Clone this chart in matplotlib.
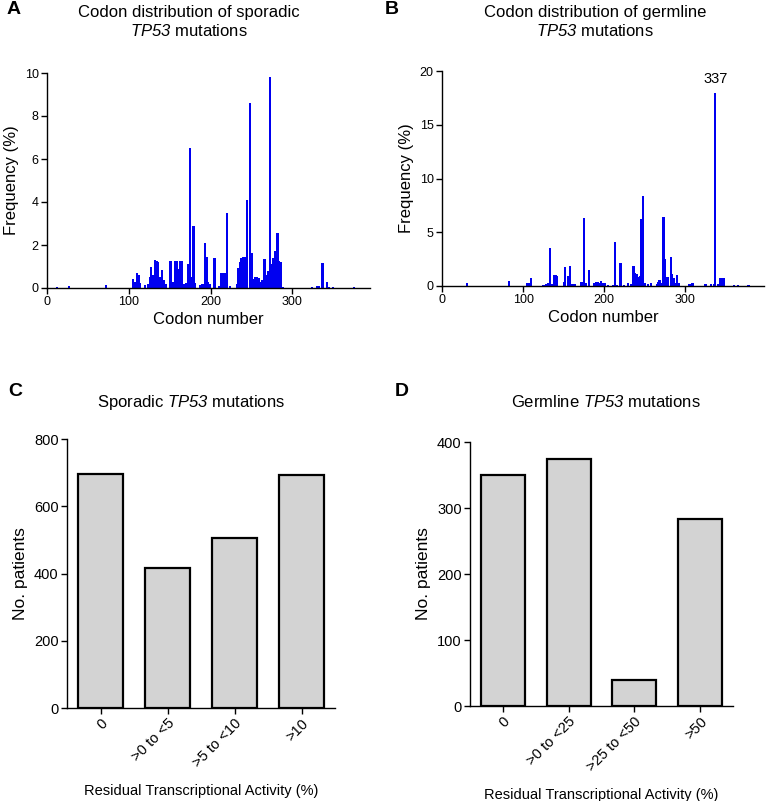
import matplotlib
matplotlib.use("Agg")
import matplotlib.pyplot as plt

plt.rcParams['font.family'] = ['Liberation Sans', 'DejaVu Sans']
# TP53 is italic in the figure, digits included
plt.rcParams['mathtext.fontset'] = 'custom'
plt.rcParams['mathtext.rm'] = 'Liberation Sans:italic'
plt.rcParams['mathtext.it'] = 'Liberation Sans:italic'

# A: codon distribution of sporadic TP53 mutations (%)
sporadic_codons = [12, 27, 48, 72, 105, 107, 110, 112, 114, 120, 124, 126, 127, 129,
                   132, 134, 136, 138, 141, 143, 145, 151, 153, 155, 157, 159, 161,
                   163, 165, 167, 170, 173, 175, 177, 179, 181, 187, 190, 193, 195,
                   197, 199, 205, 210, 213, 215, 217, 220, 224, 232, 234, 236, 238,
                   240, 242, 245, 248, 250, 252, 255, 257, 259, 261, 263, 266, 268,
                   270, 273, 275, 277, 279, 282, 284, 286, 288, 324, 330, 333, 337,
                   342, 345, 350, 375]
sporadic_freq = [0.05, 0.1, 0.02, 0.15, 0.4, 0.3, 0.7, 0.6, 0.25, 0.15, 0.2, 0.5, 1.0, 0.6,
                 1.3, 1.25, 1.2, 0.5, 0.85, 0.35, 0.2, 1.25, 0.3, 0.3, 1.25, 1.25, 0.9,
                 1.25, 1.25, 0.2, 0.25, 1.1, 6.5, 0.5, 2.9, 0.25, 0.15, 0.2, 2.1, 1.45,
                 0.3, 0.2, 1.4, 0.1, 0.7, 0.7, 0.7, 3.5, 0.1, 0.2, 0.95, 1.2, 1.4,
                 1.45, 1.45, 4.1, 8.6, 1.65, 0.4, 0.5, 0.5, 0.45, 0.3, 0.35, 1.35, 0.6,
                 0.8, 9.8, 1.1, 1.4, 1.7, 2.55, 1.25, 1.2, 0.05, 0.05, 0.1, 0.1, 1.15,
                 0.3, 0.05, 0.05, 0.05]

# B: codon distribution of germline TP53 mutations (%)
germline_codons = [31, 83, 105, 107, 110, 125, 128, 131, 133, 135, 138, 140, 142, 150,
                   152, 156, 158, 161, 164, 172, 175, 177, 181, 187, 190, 192, 194,
                   196, 198, 201, 205, 211, 213, 216, 220, 224, 229, 233, 236, 238,
                   240, 242, 244, 245, 248, 250, 254, 258, 265, 267, 268, 272, 273,
                   275, 277, 279, 282, 284, 286, 288, 290, 292, 305, 307, 309, 325,
                   332, 335, 337, 340, 343, 345, 347, 360, 365, 378]
germline_freq = [0.3, 0.45, 0.3, 0.3, 0.7, 0.1, 0.15, 0.3, 3.5, 0.15, 1.0, 1.0, 0.95, 0.4,
                 1.75, 0.9, 1.9, 0.15, 0.2, 0.35, 6.3, 0.3, 1.5, 0.3, 0.35, 0.4, 0.3,
                 0.5, 0.3, 0.3, 0.1, 0.1, 4.1, 0.1, 2.1, 0.1, 0.25, 0.2, 1.9, 1.2,
                 1.1, 0.8, 0.9, 6.2, 8.4, 0.3, 0.15, 0.3, 0.2, 0.4, 0.6, 0.3, 6.4,
                 2.5, 0.8, 0.8, 2.7, 1.1, 0.7, 0.3, 1.0, 0.3, 0.15, 0.2, 0.3, 0.2,
                 0.2, 0.2, 18.0, 0.15, 0.7, 0.75, 0.7, 0.1, 0.1, 0.1]

# C / D: patients by residual transcriptional activity
sporadic_cats = ['0', '>0 to <5', '>5 to <10', '>10']
sporadic_counts = [695, 415, 505, 692]
germline_cats = ['0', '>0 to <25', '>25 to <50', '>50']
germline_counts = [350, 375, 39, 284]

BLUE = '#0000f0'
GRAY = '#d3d3d3'

fig = plt.figure(figsize=(7.66, 8.01), dpi=100)
W, H = 766, 801


def add_ax(left, top, right, bottom):
    return fig.add_axes([left / W, 1 - bottom / H, (right - left) / W, (bottom - top) / H])


def style(ax, size):
    for s in ['top', 'right']:
        ax.spines[s].set_visible(False)
    for s in ['left', 'bottom']:
        ax.spines[s].set_linewidth(1.0)
    ax.tick_params(direction='out', length=4, width=1.0, labelsize=size, pad=2)


# panel A
axA = add_ax(47, 73, 370, 288)
axA.bar(sporadic_codons, sporadic_freq, width=2.8, color=BLUE, linewidth=0)
axA.set_xlim(0, 395)
axA.set_ylim(0, 10)
axA.set_xticks([0, 100, 200, 300])
axA.set_yticks([0, 2, 4, 6, 8, 10])
axA.set_xlabel('Codon number', fontsize=12, labelpad=3)
axA.set_ylabel('Frequency (%)', fontsize=12, labelpad=4)
style(axA, 9)

# panel B
axB = add_ax(442, 71, 764, 286)
axB.bar(germline_codons, germline_freq, width=2.8, color=BLUE, linewidth=0)
axB.set_xlim(0, 397)
axB.set_ylim(0, 20)
axB.set_xticks([0, 100, 200, 300])
axB.set_yticks([0, 5, 10, 15, 20])
axB.set_xlabel('Codon number', fontsize=12, labelpad=3)
axB.set_ylabel('Frequency (%)', fontsize=12, labelpad=4)
axB.text(337, 18.6, '337', ha='center', va='bottom', fontsize=10.5)
style(axB, 9)


def cat_panel(ax, cats, counts, ymax, step):
    x = list(range(len(cats)))
    ax.bar(x, counts, width=0.67, color=GRAY, edgecolor='black', linewidth=1.6)
    ax.set_xlim(-0.5, len(cats) - 0.5)
    ax.set_ylim(0, ymax)
    ax.set_yticks(range(0, ymax + 1, step))
    ax.set_xticks(x)
    ax.set_xticklabels(cats, rotation=45, ha='right', rotation_mode='anchor')
    ax.set_ylabel('No. patients', fontsize=12.5, labelpad=4)
    ax.set_xlabel('Residual Transcriptional Activity (%)', fontsize=10.5, labelpad=10)
    style(ax, 10.5)


axC = add_ax(67, 439, 335, 708)
cat_panel(axC, sporadic_cats, sporadic_counts, 800, 200)

axD = add_ax(470, 442, 733, 706)
cat_panel(axD, germline_cats, germline_counts, 400, 100)

# titles and panel letters
fig.text(189 / W, 1 - 22 / H, 'Codon distribution of sporadic\n$TP53$ mutations',
         ha='center', va='center', fontsize=12, linespacing=1.25)
fig.text(595 / W, 1 - 22 / H, 'Codon distribution of germline\n$TP53$ mutations',
         ha='center', va='center', fontsize=12, linespacing=1.25)
fig.text(191 / W, 1 - 402 / H, 'Sporadic $TP53$ mutations',
         ha='center', va='center', fontsize=12)
fig.text(606 / W, 1 - 402 / H, 'Germline $TP53$ mutations',
         ha='center', va='center', fontsize=12)

for lbl, x, y in [('A', 14, 9), ('B', 392, 9), ('C', 15, 391), ('D', 402, 391)]:
    fig.text(x / W, 1 - y / H, lbl, ha='center', va='center', fontsize=14, fontweight='bold')

fig.savefig('out.png', dpi=100)
